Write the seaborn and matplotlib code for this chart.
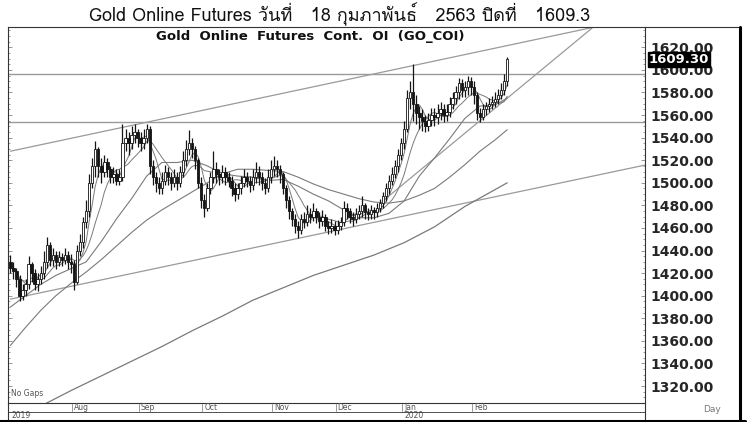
"""
Gold Online Futures (GO_COI) daily candlestick chart, grey style
"""

import numpy as np
import pandas as pd
import matplotlib
matplotlib.use("Agg")
import matplotlib.pyplot as plt
import matplotlib.transforms as mtransforms
from matplotlib.lines import Line2D
from matplotlib import font_manager
from matplotlib.ft2font import FT2Font
import seaborn as sns

# ---------------- data ----------------
first_open = 1430
closes = [1425, 1422, 1415, 1400, 1405, 1410, 1428, 1420, 1410, 1415,
          1420, 1430, 1445, 1432, 1436, 1430, 1434, 1432, 1436, 1430,
          1428, 1412, 1440, 1448, 1465, 1475, 1500, 1515, 1530, 1515,
          1510, 1518, 1512, 1505, 1508, 1502, 1505, 1535, 1540, 1535,
          1542, 1545, 1540, 1535, 1540, 1548, 1515, 1505, 1500, 1495,
          1502, 1510, 1505, 1500, 1505, 1500, 1510, 1520, 1530, 1535,
          1530, 1520, 1500, 1485, 1478, 1495, 1505, 1512, 1508, 1505,
          1510, 1505, 1502, 1495, 1490, 1495, 1500, 1505, 1502, 1498,
          1505, 1510, 1505, 1500, 1495, 1505, 1512, 1515, 1512, 1508,
          1495, 1485, 1475, 1468, 1462, 1458, 1468, 1465, 1472, 1470,
          1475, 1470, 1466, 1470, 1462, 1460, 1462, 1458, 1462, 1465,
          1478, 1475, 1470, 1468, 1472, 1475, 1480, 1474, 1472, 1476,
          1474, 1478, 1482, 1488, 1495, 1502, 1508, 1515, 1525, 1535,
          1548, 1575, 1580, 1570, 1562, 1558, 1555, 1550, 1556, 1560,
          1558, 1562, 1565, 1560, 1563, 1570, 1575, 1580, 1588, 1582,
          1585, 1590, 1585, 1578, 1562, 1558, 1565, 1568, 1570, 1572,
          1574, 1578, 1582, 1590, 1609.3]
highs = [1436, 1430, 1425, 1418, 1410, 1415, 1435, 1430, 1424, 1420,
         1426, 1440, 1452, 1448, 1442, 1440, 1440, 1438, 1442, 1440,
         1437, 1432, 1445, 1455, 1470, 1485, 1508, 1522, 1537, 1532,
         1522, 1525, 1522, 1515, 1514, 1512, 1512, 1552, 1548, 1545,
         1550, 1552, 1548, 1545, 1548, 1552, 1550, 1520, 1510, 1505,
         1510, 1516, 1514, 1510, 1512, 1510, 1515, 1528, 1538, 1547,
         1540, 1533, 1522, 1505, 1490, 1500, 1510, 1528, 1518, 1512,
         1516, 1514, 1510, 1506, 1500, 1500, 1506, 1512, 1510, 1506,
         1512, 1518, 1515, 1510, 1504, 1512, 1520, 1524, 1520, 1516,
         1510, 1498, 1488, 1478, 1472, 1466, 1472, 1474, 1480, 1478,
         1482, 1478, 1474, 1476, 1472, 1466, 1468, 1466, 1467, 1470,
         1484, 1482, 1478, 1474, 1478, 1480, 1488, 1482, 1478, 1480,
         1479, 1482, 1486, 1492, 1500, 1507, 1514, 1520, 1530, 1540,
         1555, 1582, 1590, 1605, 1578, 1568, 1565, 1560, 1562, 1566,
         1566, 1570, 1572, 1570, 1570, 1576, 1580, 1586, 1593, 1592,
         1590, 1595, 1594, 1590, 1580, 1566, 1570, 1572, 1575, 1577,
         1580, 1583, 1588, 1596, 1611]
lows = [1420, 1415, 1408, 1395, 1396, 1400, 1406, 1412, 1405, 1404,
        1410, 1415, 1425, 1426, 1426, 1424, 1426, 1426, 1428, 1424,
        1420, 1405, 1410, 1435, 1442, 1460, 1470, 1495, 1505, 1505,
        1500, 1505, 1505, 1500, 1500, 1498, 1498, 1502, 1528, 1525,
        1530, 1535, 1532, 1528, 1530, 1535, 1508, 1498, 1492, 1490,
        1490, 1498, 1498, 1494, 1496, 1494, 1496, 1505, 1515, 1525,
        1522, 1512, 1495, 1478, 1470, 1475, 1490, 1500, 1500, 1498,
        1500, 1498, 1496, 1488, 1484, 1486, 1490, 1496, 1496, 1492,
        1494, 1500, 1498, 1494, 1490, 1492, 1500, 1506, 1505, 1500,
        1490, 1478, 1468, 1462, 1456, 1451, 1455, 1460, 1462, 1464,
        1466, 1464, 1460, 1462, 1457, 1455, 1456, 1454, 1455, 1458,
        1462, 1468, 1464, 1462, 1464, 1468, 1470, 1468, 1467, 1468,
        1468, 1470, 1474, 1478, 1484, 1490, 1498, 1504, 1510, 1520,
        1530, 1545, 1565, 1555, 1552, 1548, 1546, 1545, 1546, 1550,
        1550, 1552, 1556, 1554, 1555, 1558, 1565, 1570, 1574, 1576,
        1576, 1578, 1578, 1570, 1556, 1554, 1556, 1560, 1563, 1565,
        1567, 1570, 1574, 1578, 1586]

# moving averages (every 5 sessions)
ma_idx = [0, 5, 10, 15, 20, 25, 30, 35, 40, 45,
          50, 55, 60, 65, 70, 75, 80, 85, 90, 95,
          100, 105, 110, 115, 120, 125, 130, 135, 140, 145,
          150, 155, 160, 164]
ma25 = [1390, 1400, 1410, 1418, 1424, 1430, 1448, 1468, 1486, 1506,
        1518, 1518, 1520, 1515, 1508, 1506, 1505, 1502, 1503, 1497,
        1490, 1484, 1476, 1469, 1469, 1473, 1484, 1506, 1522, 1539,
        1557, 1568, 1569, 1575]
ma50 = [1356, 1372, 1387, 1400, 1411, 1421, 1432, 1444, 1456, 1467,
        1476, 1484, 1492, 1500, 1508, 1512, 1512, 1511, 1510, 1505,
        1499, 1494, 1490, 1486, 1483, 1482, 1484, 1489, 1495, 1505,
        1516, 1528, 1538, 1547]
long_idx = [0, 12, 20, 30, 40, 50, 60, 70, 80, 90, 100, 110, 120, 130, 140, 150, 160, 164]
ma_long = [1290, 1305, 1316, 1329, 1342, 1355, 1369, 1382, 1396, 1407,
           1418, 1427, 1436, 1447, 1461, 1479, 1494, 1500]

# hand drawn trend lines (session index, price)
upper_channel_x = [0, 192]
upper_channel_y = [1528, 1637.5]
lower_channel_x = [0, 209.5]
lower_channel_y = [1397, 1515.7]
support_x = [123, 192]
support_y = [1484, 1637]
h_levels = [1596, 1554]

y_ticks = list(range(1320, 1621, 20))
last_price = 1609.3
title_th = "Gold Online Futures วันที่   18 กุมภาพันธ์   2563 ปิดที่   1609.3"
chart_name = "Gold  Online  Futures  Cont.  OI  (GO_COI)"

# ---------------- helpers ----------------
W, H = 750, 422


def fx(px):
    return px / W


def fy(py):
    return 1 - py / H


def find_font(ch):
    # first installed font that has a glyph for ch
    for f in font_manager.fontManager.ttflist:
        try:
            if FT2Font(f.fname).get_char_index(ord(ch)):
                return f.name
        except Exception:
            pass
    return "DejaVu Sans"


sns.set_style("white")
plt.rcParams["font.family"] = ["DejaVu Sans"]
thai = find_font("ว")

dates = pd.bdate_range("2019-07-03", "2020-02-18")
df = pd.DataFrame({"date": dates, "close": closes, "high": highs, "low": lows})
df["open"] = df["close"].shift(1).fillna(first_open)
df["idx"] = np.arange(len(df))
df["ma5"] = df["close"].rolling(5, min_periods=1).mean()
df["ma10"] = df["close"].rolling(10, min_periods=1).mean()

fig = plt.figure(figsize=(7.5, 4.22), dpi=100)
ax = fig.add_axes([fx(8), fy(403), fx(645) - fx(8), fy(27) - fy(403)])

line_grey = "#7a7a7a"
trend_grey = "#9a9a9a"

# trend lines and levels
for lv in h_levels:
    ax.axhline(lv, color=trend_grey, lw=1.0, zorder=1)
sns.lineplot(x=upper_channel_x, y=upper_channel_y, ax=ax, color=trend_grey, lw=0.9)
sns.lineplot(x=lower_channel_x, y=lower_channel_y, ax=ax, color=trend_grey, lw=0.9)
sns.lineplot(x=support_x, y=support_y, ax=ax, color=trend_grey, lw=0.9)

# moving averages
sns.lineplot(data=df, x="idx", y="ma5", ax=ax, color=line_grey, lw=0.7)
sns.lineplot(data=df, x="idx", y="ma10", ax=ax, color=line_grey, lw=0.7)
sns.lineplot(x=ma_idx, y=ma25, ax=ax, color=line_grey, lw=0.8)
sns.lineplot(x=ma_idx, y=ma50, ax=ax, color=line_grey, lw=0.8)
sns.lineplot(x=long_idx, y=ma_long, ax=ax, color=line_grey, lw=0.9)

# candles
up = df["close"] >= df["open"]
ax.vlines(df["idx"], df["low"], df["high"], color="#151515", lw=0.9, zorder=3)
ax.bar(df["idx"][up], (df["close"] - df["open"])[up], bottom=df["open"][up],
       width=0.8, color="white", edgecolor="#151515", lw=0.6, zorder=4)
ax.bar(df["idx"][~up], (df["close"] - df["open"])[~up], bottom=df["open"][~up],
       width=0.8, color="#151515", edgecolor="#151515", lw=0.6, zorder=4)

ax.set_xlim(-0.8, 209.5)
ax.set_ylim(1305, 1638)
ax.set_xlabel("")
ax.set_ylabel("")
ax.set_xticks([])
ax.set_yticks(y_ticks)
ax.set_yticklabels([f"{v:.2f}" for v in y_ticks], fontsize=10, fontweight="bold")
ax.set_yticks(np.arange(1310, 1636, 5), minor=True)
ax.tick_params(axis="y", which="both", left=True, right=True, labelleft=False,
               labelright=True, direction="in", color="#888888", width=0.6)
ax.tick_params(axis="y", which="major", length=3, pad=4)
ax.tick_params(axis="y", which="minor", length=1.5)
for s in ax.spines.values():
    s.set_color("#333333")
    s.set_linewidth(0.8)

# last price marker
ytr = mtransforms.blended_transform_factory(ax.transAxes, ax.transData)
ax.text(1.006, last_price, f"{last_price:.2f}", transform=ytr, ha="left", va="center",
        fontsize=9.5, fontweight="bold", color="white", zorder=10,
        bbox=dict(boxstyle="square,pad=0.06", fc="black", ec="black"))

ax.text(0.474, 0.992, chart_name, transform=ax.transAxes, ha="center", va="top",
        fontsize=9.5, fontweight="bold", color="#111111")
ax.text(0.004, 0.012, "No Gaps", transform=ax.transAxes, ha="left", va="bottom",
        fontsize=5.5, color="#555555")

# date strip below the plot
xtr = mtransforms.blended_transform_factory(ax.transData, fig.transFigure)
month_start = df.index[df["date"].dt.month != df["date"].dt.month.shift(1)][1:]
for i in month_start:
    ax.add_line(Line2D([i - 0.6, i - 0.6], [fy(404), fy(411)], transform=xtr,
                       color="#888888", lw=0.6, clip_on=False))
    ax.text(i, fy(407.5), df["date"][i].strftime("%b"), transform=xtr, ha="left",
            va="center", fontsize=5.5, color="#555555", clip_on=False)
ax.text(0.5, fy(415.5), "2019", transform=xtr, ha="left", va="center",
        fontsize=5.5, color="#555555")
jan = [i for i in month_start if df["date"][i].month == 1][0]
ax.text(jan, fy(415.5), "2020", transform=xtr, ha="left", va="center",
        fontsize=5.5, color="#555555")

frame = dict(transform=fig.transFigure, color="#333333")
fig.add_artist(Line2D([fx(8), fx(645)], [fy(411.5), fy(411.5)], lw=0.6, **frame))
fig.add_artist(Line2D([fx(8), fx(8)], [fy(403), fy(420)], lw=0.8, **frame))
fig.add_artist(Line2D([fx(645), fx(645)], [fy(403), fy(420)], lw=0.8, **frame))
fig.add_artist(Line2D([fx(645), fx(740)], [fy(27), fy(27)], lw=0.8, **frame))
fig.add_artist(Line2D([fx(740), fx(740)], [fy(27), fy(421)], lw=2.2, color="black",
                      transform=fig.transFigure))
fig.add_artist(Line2D([fx(0), fx(745)], [fy(421), fy(421)], lw=2.2, color="black",
                      transform=fig.transFigure))
fig.text(fx(712), fy(410), "Day", ha="center", va="center", fontsize=6.5, color="#777777")

fig.text(fx(340), fy(14), title_th, ha="center", va="center", fontsize=13,
         family=[thai, "DejaVu Sans"], color="#111111")

fig.savefig("out.png", dpi=100)
